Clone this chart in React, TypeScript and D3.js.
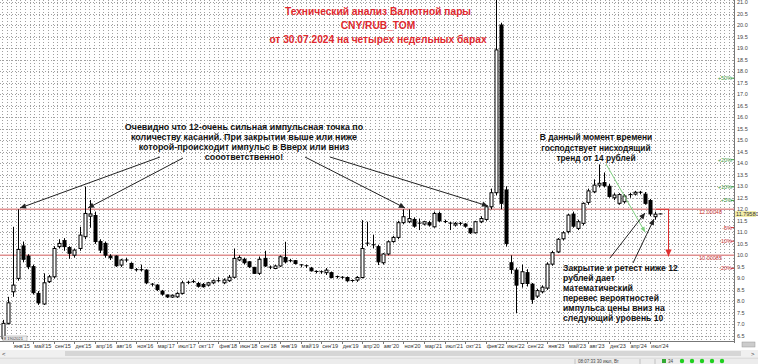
import React from "react";
import * as d3 from "d3";

const W = 758;
const H = 364;

// bar index 0..128 (four-week bars)
const opens = [6.4,7.05,8.42,9.0,10.41,9.97,9.51,8.35,7.89,8.86,9.07,10.38,10.64,10.34,10.01,10.3,10.81,11.7,11.73,10.6,10.52,9.97,9.97,9.58,9.8,9.65,9.38,9.38,9.36,8.75,8.71,8.45,8.28,8.19,8.2,8.35,8.82,8.85,8.78,8.74,8.71,8.81,8.9,8.81,8.9,9.05,9.8,9.83,9.72,9.48,9.22,9.87,9.49,9.43,9.54,9.91,9.77,9.77,9.59,9.55,9.44,9.3,9.29,9.25,9.25,9.08,9.05,9.04,8.91,8.93,9.04,10.53,10.46,10.38,9.68,10.06,10.6,10.78,11.42,11.46,11.56,11.4,11.36,11.42,11.24,11.82,11.47,11.4,11.32,11.39,11.36,11.17,10.98,11.46,11.56,12.11,12.72,20.0,12.84,9.68,9.36,8.78,9.25,8.75,8.23,8.42,8.58,9.62,10.15,10.72,11.03,11.79,11.17,11.39,12.3,12.76,13.05,13.16,13.0,12.5,12.26,12.33,12.6,12.66,12.74,12.66,12.38,11.68,11.8];
const highs = [7.2,8.2,11.24,12.0,10.6,10.05,9.6,8.45,9.22,9.15,10.4,10.7,10.75,10.4,10.3,11.24,12.98,12.4,11.9,10.7,10.6,10.05,10.0,9.85,9.9,9.7,9.45,9.6,9.4,8.8,8.75,8.5,8.3,8.3,8.4,8.9,8.9,8.95,8.85,8.8,8.85,8.95,9.05,9.0,9.15,10.3,10.0,9.9,9.75,9.5,9.95,10.2,9.56,9.6,10.0,10.59,9.85,9.8,9.62,9.6,9.5,9.35,9.35,9.45,9.3,9.12,9.1,9.08,8.95,9.1,11.53,11.46,10.9,10.45,10.1,10.65,10.85,11.5,12.0,12.0,11.65,11.6,11.5,11.5,11.9,11.9,11.55,11.45,11.45,11.45,11.4,11.2,11.5,11.7,12.15,12.9,22.5,20.1,13.0,10.0,9.45,9.6,9.4,8.8,8.55,8.7,9.7,10.2,10.75,11.05,11.8,11.9,11.55,12.3,12.9,13.3,13.95,13.6,13.1,12.7,12.7,12.65,12.72,12.8,12.8,12.75,12.45,11.9,11.82];
const lows = [6.3,7.0,8.2,8.9,9.7,9.4,8.3,7.85,7.85,8.8,9.0,10.3,10.2,9.85,9.9,10.2,10.7,11.2,10.5,10.1,9.9,9.8,9.5,9.5,9.7,9.4,9.3,9.3,8.75,8.65,8.45,8.25,8.15,8.15,8.15,8.3,8.75,8.8,8.6,8.6,8.65,8.75,8.85,8.75,8.85,9.0,9.75,9.6,9.45,9.2,9.15,9.5,9.4,9.4,9.5,9.65,9.7,9.6,9.5,9.45,9.3,9.22,9.2,9.15,9.0,9.0,8.98,8.85,8.85,8.85,9.0,10.4,10.3,9.58,9.6,10.0,10.55,10.7,11.35,11.4,11.2,11.1,11.3,11.25,11.2,11.45,11.4,11.1,11.25,11.3,11.2,10.93,10.95,11.4,11.5,12.0,12.6,12.0,10.38,9.2,7.5,8.6,8.65,7.9,8.15,8.35,8.5,9.55,10.1,10.65,10.95,11.2,11.1,11.3,12.2,12.7,12.95,12.95,12.5,12.4,12.2,12.25,12.5,12.6,12.65,12.2,11.7,11.55,11.78];
const closes = [7.05,7.94,8.71,10.26,9.83,9.51,8.38,7.94,8.81,9.07,10.3,10.52,10.38,10.09,10.23,10.88,11.82,11.8,10.6,10.23,10.01,9.9,9.55,9.8,9.78,9.44,9.35,9.36,8.81,8.72,8.52,8.32,8.2,8.27,8.35,8.81,8.83,8.86,8.66,8.64,8.81,8.9,8.88,8.93,9.05,9.87,9.91,9.68,9.51,9.22,9.83,9.54,9.47,9.54,9.94,9.72,9.76,9.65,9.57,9.53,9.33,9.28,9.28,9.36,9.04,9.06,9.03,8.9,8.89,9.04,10.3,10.51,10.44,9.72,10.06,10.59,10.78,11.42,11.68,11.6,11.27,11.38,11.46,11.32,11.82,11.5,11.45,11.38,11.39,11.37,11.27,10.98,11.46,11.6,12.11,12.72,18.92,12.26,10.52,9.39,8.71,9.29,8.78,8.09,8.47,8.62,9.62,10.12,10.7,10.98,11.75,11.27,11.46,12.26,12.8,13.05,13.13,13.03,12.56,12.62,12.64,12.58,12.64,12.74,12.72,12.26,11.8,11.79,11.7958];

const timeLabels = ["янв'15","май'15","сен'15","дек'15","апр'16","авг'16","ноя'16","мар'17","июл'17","окт'17","фев'18","июн'18","сен'18","янв'19","май'19","сен'19","дек'19","апр'20","авг'20","ноя'20","мар'21","июл'21","окт'21","фев'22","июн'22","сен'22","янв'23","май'23","авг'23","дек'23","апр'24","июл'24"];
const timeLabelBars = timeLabels.map((_, k) => 2 + 4 * k);

const priceTicks = d3.range(6.5, 21.01, 0.5);
const levels = [12.00048, 10.00085];
const levelLabels = ["12.00048", "10.00085"];
const currentPrice = 11.7958;
const pctLevels = [50, 20, 10, 5, -5, -10, -20];

const titleLines = ["Технический анализ Валютной пары", "CNY/RUB_TOM", "от 30.07.2024 на четырех недельных барах"];
const note1 = ["Очевидно что 12-очень сильная импульсная точка по", "количеству касаний. При закрытии выше или ниже", "которой-происходит импульс в Вверх или вниз", "сооответственно!"];
const note2 = ["В данный момент времени", "господствует нисходящий", "тренд от 14 рублей"];
const note3 = ["Закрытие и ретест ниже 12", "рублей дает", "математический", "перевес вероятностей", "импульса цены вниз на", "следующий уровень 10"];

const AX = 734; // right axis x
const PB = 341; // plot bottom

export default function App() {
  const x = d3.scaleLinear().domain([0, 128]).range([2.5, 660.4]);
  const y = d3.scaleLinear().domain([6.5, 21]).range([336, 2]);
  const n = opens.length;
  const bw = 3;

  const vgrid = d3.range(2, AX, 4.6);
  const font = "'Liberation Sans', Arial, sans-serif";

  const arrow = (x1: number, y1: number, x2: number, y2: number, color: string, key: string, size = 6) => {
    const a = Math.atan2(y2 - y1, x2 - x1);
    const p1 = [x2 - size * Math.cos(a) + (size / 2.2) * Math.sin(a), y2 - size * Math.sin(a) - (size / 2.2) * Math.cos(a)];
    const p2 = [x2 - size * Math.cos(a) - (size / 2.2) * Math.sin(a), y2 - size * Math.sin(a) + (size / 2.2) * Math.cos(a)];
    return (
      <g key={key}>
        <line x1={x1} y1={y1} x2={x2} y2={y2} stroke={color} strokeWidth={1} />
        <path d={`M${x2},${y2}L${p1[0]},${p1[1]}L${p2[0]},${p2[1]}Z`} fill={color} />
      </g>
    );
  };

  return (
    <svg width={W} height={H} style={{ position: "absolute", left: 0, top: 0, background: "#fff" }}>
      <rect x={0} y={0} width={W} height={H} fill="#fff" />
      {/* grid */}
      <g stroke="#a0a0a0" strokeWidth={1} strokeDasharray="1,2">
        {vgrid.map((gx, i) => (
          <line key={"v" + i} x1={Math.round(gx) + 0.5} y1={0} x2={Math.round(gx) + 0.5} y2={PB} />
        ))}
        {priceTicks.map((p, i) => (
          <line key={"h" + i} x1={0} y1={Math.round(y(p)) + 0.5} x2={AX} y2={Math.round(y(p)) + 0.5} />
        ))}
      </g>
      {/* levels */}
      {levels.map((l, i) => (
        <g key={"lv" + i}>
          <line x1={0} x2={AX} y1={y(l)} y2={y(l)} stroke="#e09090" strokeWidth={1.5} />
          <text x={722} y={y(l) + 5} fontSize={5.5} fill="#c83030" textAnchor="end" fontFamily={font}>{levelLabels[i]}</text>
        </g>
      ))}
      {/* percent levels */}
      {pctLevels.map((pc, i) => {
        const yy = y(currentPrice * (1 + pc / 100));
        return (
          <g key={"pc" + i}>
            <line x1={AX - 3} x2={AX} y1={yy} y2={yy} stroke={pc > 0 ? "#3c9a3c" : "#c83030"} />
            <text x={AX - 2} y={yy + 2} fontSize={5.5} fill={pc > 0 ? "#3c9a3c" : "#c83030"} textAnchor="end" fontFamily={font}>
              {(pc > 0 ? "+" : "") + pc + "%"}
            </text>
          </g>
        );
      })}
      {/* candles */}
      <g>
        {d3.range(n).map((i) => {
          const cx = Math.round(x(i)) + 0.5;
          const o = opens[i], c = closes[i];
          const top = y(Math.max(o, c)), bot = y(Math.min(o, c));
          const up = c >= o;
          const h = Math.max(bot - top, 0);
          return (
            <g key={"c" + i}>
              <line x1={cx} x2={cx} y1={y(highs[i])} y2={y(lows[i])} stroke="#000" strokeWidth={1} />
              {h < 1.5 ? (
                <line x1={cx - 2} x2={cx + 2} y1={top} y2={top} stroke="#000" strokeWidth={1} />
              ) : (
                <rect x={cx - bw / 2} y={top} width={bw} height={h} fill={up ? "#fff" : "#000"} stroke="#000" strokeWidth={1} />
              )}
            </g>
          );
        })}
      </g>
      {/* green trend line */}
      {arrow(606, 164, 645, 232, "#7fd07f", "g1", 5)}
      {/* red target arrow */}
      <line x1={656} x2={669} y1={y(12)} y2={y(12)} stroke="#e03030" strokeWidth={1} />
      {arrow(668.5, y(12), 668.5, y(10) + 1, "#e03030", "r1", 7)}
      {/* annotation arrows */}
      {arrow(160, 157, 20, 208, "#222", "a1")}
      {arrow(183, 158, 88, 208, "#222", "a2")}
      {arrow(305, 157, 405, 208, "#222", "a3")}
      {arrow(330, 157, 488, 206, "#222", "a4")}
      {arrow(610, 258, 645, 213, "#222", "a5")}
      {arrow(633, 263, 654, 219, "#222", "a6")}
      {/* title */}
      <g fontFamily={font} fontWeight="bold" fontSize={10.2} fill="#e0282e" textAnchor="middle">
        {titleLines.map((t, i) => (
          <text key={"t" + i} x={378} y={15 + i * 14}>{t}</text>
        ))}
      </g>
      {/* notes */}
      <g fontFamily={font} fontWeight="bold" fontSize={8.9} fill="#111">
        {note1.map((t, i) => (
          <text key={"n1" + i} x={244} y={130 + i * 10} textAnchor="middle">{t}</text>
        ))}
        {note2.map((t, i) => (
          <text key={"n2" + i} x={596} y={140 + i * 10.5} textAnchor="middle" fontSize={8.4}>{t}</text>
        ))}
        {note3.map((t, i) => (
          <text key={"n3" + i} x={563} y={271 + i * 10} textAnchor="start" fontSize={8.6}>{t}</text>
        ))}
      </g>
      {/* right axis */}
      <line x1={AX + 0.5} x2={AX + 0.5} y1={0} y2={PB + 2} stroke="#777" />
      <g fontFamily={font} fontSize={5.5} fill="#444">
        {priceTicks.map((p, i) => (
          <text key={"pt" + i} x={AX + 3} y={y(p) + 2}>{p.toFixed(1)}</text>
        ))}
      </g>
      <rect x={AX + 1} y={y(currentPrice) - 3} width={21} height={6} fill="#f3eea8" />
      <text x={AX + 2} y={y(currentPrice) + 2} fontSize={5.5} fontFamily={font} fill="#333">11.79580</text>
      {/* bottom axis */}
      <line x1={0} x2={AX} y1={PB + 0.5} y2={PB + 0.5} stroke="#777" />
      <g fontFamily={font} fontSize={5.5} fill="#333">
        {timeLabels.map((t, k) => (
          <g key={"tl" + k}>
            <line x1={Math.round(x(timeLabelBars[k])) + 0.5} x2={Math.round(x(timeLabelBars[k])) + 0.5} y1={PB} y2={PB + 3} stroke="#777" />
            <text x={x(timeLabelBars[k]) + 1} y={PB + 7}>{t}</text>
          </g>
        ))}
      </g>
      <rect x={3} y={336} width={24} height={5} fill="#eee" stroke="#999" strokeWidth={0.5} />
      <text x={4} y={340} fontSize={4} fontFamily={font} fill="#333">8 1902021</text>
      <rect x={742} y={342} width={13} height={5} fill="#ccc" stroke="#999" strokeWidth={0.5} />
      {/* scrollbar */}
      <rect x={0} y={350} width={W} height={7} fill="#f0f0f0" />
      <rect x={65} y={351} width={676} height={5} fill="#d6d6d6" />
      <text x={2} y={356} fontSize={6} fontFamily={font} fill="#333">&lt;</text>
      <text x={751} y={356} fontSize={6} fontFamily={font} fill="#333">&gt;</text>
      {/* status bar */}
      <rect x={0} y={358} width={W} height={6} fill="#ececec" />
      <line x1={0} x2={W} y1={358} y2={358} stroke="#d0d0d0" />
      <line x1={575} x2={575} y1={359} y2={364} stroke="#c0c0c0" />
      <line x1={640} x2={640} y1={359} y2={364} stroke="#c0c0c0" />
      <line x1={655} x2={655} y1={359} y2={364} stroke="#c0c0c0" />
      <text x={578} y={363} fontSize={4.5} fontFamily={font} fill="#444">08:07:33 30 июл, Вт</text>
      <rect x={662} y={359} width={4} height={4} fill="#3a3" />
      <text x={668} y={363} fontSize={4.5} fontFamily={font} fill="#444">34</text>
      {[682, 692, 702, 712, 722].map((dx, i) => (
        <circle key={"d" + i} cx={dx} cy={361} r={2.2} fill="#1ed01e" />
      ))}
    </svg>
  );
}
